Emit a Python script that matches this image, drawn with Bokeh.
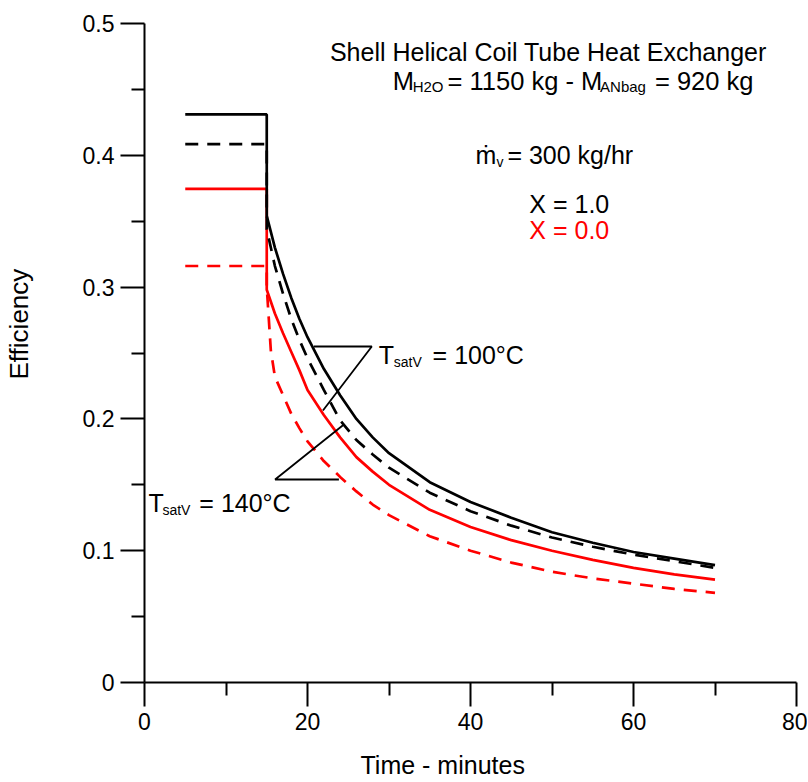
from bokeh.plotting import figure
from bokeh.models import Range1d, FixedTicker, CustomJSTickFormatter, Label
from bokeh.embed import file_html
from bokeh.resources import INLINE

# ---------------- data ----------------
x_ticks = [0, 20, 40, 60, 80]
x_minor = [10, 30, 50, 70]
y_ticks = [0, 0.1, 0.2, 0.3, 0.4, 0.5]
y_minor = [0.05, 0.15, 0.25, 0.35, 0.45]

# constant (initial) part, minutes
time_flat = [5, 15]
# decay part, minutes
time_decay = [15, 16, 17, 18, 19, 20, 22, 24, 26, 28, 30, 35, 40, 45, 50, 55, 60, 65, 70]
time_decay_rd = [15, 15.5, 16, 17, 18, 19, 20, 22, 24, 26, 28, 30, 35, 40, 45, 50, 55, 60, 65, 70]

# X = 1.0, TsatV = 100 C (black solid)
flat_x1_100 = 0.431
eff_x1_100 = [0.354, 0.330, 0.310, 0.292, 0.276, 0.262, 0.238, 0.218, 0.200, 0.186, 0.174,
              0.152, 0.137, 0.125, 0.114, 0.106, 0.099, 0.094, 0.089]
# X = 1.0, TsatV = 140 C (black dashed)
flat_x1_140 = 0.4085
eff_x1_140 = [0.344, 0.316, 0.295, 0.276, 0.260, 0.246, 0.222, 0.199, 0.184, 0.173, 0.163,
              0.144, 0.130, 0.119, 0.110, 0.103, 0.097, 0.092, 0.087]
# X = 0.0, TsatV = 100 C (red solid)
flat_x0_100 = 0.3746
eff_x0_100 = [0.298, 0.280, 0.265, 0.251, 0.237, 0.222, 0.203, 0.186, 0.171, 0.160, 0.150,
              0.131, 0.118, 0.108, 0.100, 0.093, 0.087, 0.082, 0.078]
# X = 0.0, TsatV = 140 C (red dashed)
flat_x0_140 = 0.316
eff_x0_140 = [0.300, 0.252, 0.232, 0.218, 0.204, 0.193, 0.183, 0.168, 0.156, 0.145, 0.135, 0.127,
              0.111, 0.100, 0.091, 0.084, 0.079, 0.075, 0.071, 0.068]

FONT = "Liberation Sans"
NBSP = "\u00a0"

p = figure(width=807, height=781, output_backend="svg", toolbar_location=None,
           x_range=Range1d(0, 80), y_range=Range1d(0, 0.5),
           min_border_left=142, min_border_right=11, min_border_top=23, min_border_bottom=99)
p.outline_line_color = None
p.grid.visible = False
p.background_fill_color = "white"
p.border_fill_color = "white"

for ax in (p.xaxis[0], p.yaxis[0]):
    ax.axis_line_width = 2
    ax.axis_line_color = "black"
    ax.major_tick_line_width = 2
    ax.minor_tick_line_width = 2
    ax.major_tick_line_color = "black"
    ax.minor_tick_line_color = "black"
    ax.major_tick_in = 0
    ax.minor_tick_in = 0
    ax.major_tick_out = 24
    ax.minor_tick_out = 13
    ax.major_label_text_font = FONT
    ax.major_label_text_font_size = "23px"
    ax.major_label_text_color = "black"
    ax.major_label_standoff = 6
    ax.axis_label_text_font = FONT
    ax.axis_label_text_font_style = "normal"
    ax.axis_label_text_color = "black"

p.xaxis.ticker = FixedTicker(ticks=x_ticks, minor_ticks=x_minor)
p.yaxis.ticker = FixedTicker(ticks=y_ticks, minor_ticks=y_minor)
p.yaxis.formatter = CustomJSTickFormatter(code="return String(Math.round(tick*10)/10);")

# axis titles (non-breaking spaces shift them off-centre as in the reference)
p.xaxis.axis_label = "Time - minutes" + NBSP * 8
p.xaxis.axis_label_text_font_size = "25px"
p.xaxis.axis_label_standoff = 18
p.yaxis.axis_label = NBSP * 8 + "Efficiency"
p.yaxis.axis_label_text_font_size = "26px"
p.yaxis.axis_label_standoff = 46


def series(flat, decay_t, decay_v, color, dash):
    xs = list(time_flat) + list(decay_t)
    ys = [flat, flat] + list(decay_v)
    p.line(xs, ys, line_color=color, line_width=2.7, line_dash=dash)


series(flat_x0_140, time_decay_rd, eff_x0_140, "#ff0000", "13 9")
series(flat_x0_100, time_decay, eff_x0_100, "#ff0000", "solid")
series(flat_x1_140, time_decay, eff_x1_140, "black", "13 9")
series(flat_x1_100, time_decay, eff_x1_100, "black", "solid")


# annotation placement helpers (pixel -> data)
def dx(px):
    return (px - 143) / 8.175


def dy(py):
    return (683 - py) / 1318


def lab(px, py, text, size, color="black", align="left", angle=0):
    p.add_layout(Label(x=dx(px), y=dy(py), text=text, text_font=FONT,
                       text_font_size=f"{size}px", text_color=color,
                       text_align=align, text_baseline="alphabetic", angle=angle))


# leader lines for TsatV labels
p.line([dx(313), dx(371), dx(322)], [dy(347), dy(347), dy(411)], line_color="black", line_width=1.8)
p.line([dx(338), dx(274), dx(343)], [dy(480), dy(480), dy(425)], line_color="black", line_width=1.8)

# texts
lab(329, 52, "Shell Helical Coil Tube Heat Exchanger", 25)
lab(392, 81, "M", 25.5)
lab(412, 87, "H2O", 15)
lab(447, 81, "= 1150 kg - M", 25.5)
lab(600, 87, "ANbag", 15)
lab(655, 81, "= 920 kg", 25.5)

lab(475, 155, "ṁ", 25)
lab(496, 162, "v", 14)
lab(507, 155, "= 300 kg/hr", 25)

lab(529, 204, "X = 1.0", 25)
lab(529, 230, "X = 0.0", 25, color="#ff0000")

lab(378, 355, "T", 25)
lab(393, 362, "satV", 14)
lab(432, 355, "= 100°C", 25)

lab(147, 503, "T", 25)
lab(161, 510, "satV", 14)
lab(198, 503, "= 140°C", 25)

open("out.html", "w").write(file_html(p, INLINE))
